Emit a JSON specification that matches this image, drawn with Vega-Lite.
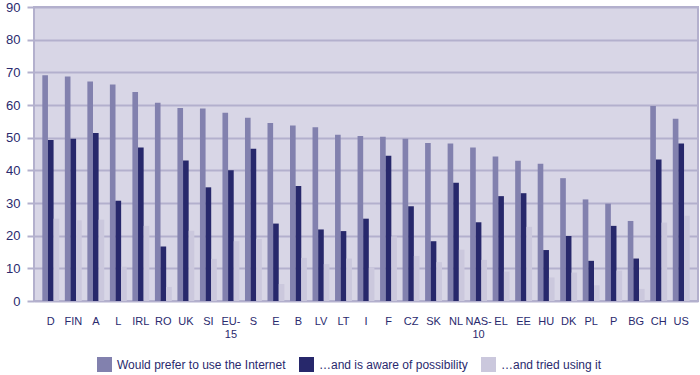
{
  "$schema": "https://vega.github.io/schema/vega-lite/v6.json",
  "width": 664,
  "height": 294,
  "autosize": {"type": "none"},
  "padding": {"left": 34, "top": 7, "right": 2, "bottom": 74},
  "background": "#ffffff",
  "config": {
    "font": "Liberation Sans",
    "view": {"fill": "#d8d6e6", "stroke": "#b3b0cd", "strokeWidth": 2}
  },
  "datasets": {
    "rows": [
      {"country": "D", "series": "Would prefer to use the Internet", "value": 69.1},
      {"country": "D", "series": "…and is aware of possibility", "value": 49.3},
      {"country": "D", "series": "…and tried using it", "value": 25.2},
      {"country": "FIN", "series": "Would prefer to use the Internet", "value": 68.7},
      {"country": "FIN", "series": "…and is aware of possibility", "value": 49.7},
      {"country": "FIN", "series": "…and tried using it", "value": 24.7},
      {"country": "A", "series": "Would prefer to use the Internet", "value": 67.2},
      {"country": "A", "series": "…and is aware of possibility", "value": 51.4},
      {"country": "A", "series": "…and tried using it", "value": 24.9},
      {"country": "L", "series": "Would prefer to use the Internet", "value": 66.3},
      {"country": "L", "series": "…and is aware of possibility", "value": 30.7},
      {"country": "L", "series": "…and tried using it", "value": 10.5},
      {"country": "IRL", "series": "Would prefer to use the Internet", "value": 64.0},
      {"country": "IRL", "series": "…and is aware of possibility", "value": 47.0},
      {"country": "IRL", "series": "…and tried using it", "value": 23.0},
      {"country": "RO", "series": "Would prefer to use the Internet", "value": 60.7},
      {"country": "RO", "series": "…and is aware of possibility", "value": 16.7},
      {"country": "RO", "series": "…and tried using it", "value": 4.3},
      {"country": "UK", "series": "Would prefer to use the Internet", "value": 59.1},
      {"country": "UK", "series": "…and is aware of possibility", "value": 43.0},
      {"country": "UK", "series": "…and tried using it", "value": 21.5},
      {"country": "SI", "series": "Would prefer to use the Internet", "value": 58.9},
      {"country": "SI", "series": "…and is aware of possibility", "value": 34.8},
      {"country": "SI", "series": "…and tried using it", "value": 12.9},
      {"country": "EU-15", "series": "Would prefer to use the Internet", "value": 57.6},
      {"country": "EU-15", "series": "…and is aware of possibility", "value": 40.0},
      {"country": "EU-15", "series": "…and tried using it", "value": 18.3},
      {"country": "S", "series": "Would prefer to use the Internet", "value": 56.1},
      {"country": "S", "series": "…and is aware of possibility", "value": 46.6},
      {"country": "S", "series": "…and tried using it", "value": 19.0},
      {"country": "E", "series": "Would prefer to use the Internet", "value": 54.5},
      {"country": "E", "series": "…and is aware of possibility", "value": 23.7},
      {"country": "E", "series": "…and tried using it", "value": 5.2},
      {"country": "B", "series": "Would prefer to use the Internet", "value": 53.7},
      {"country": "B", "series": "…and is aware of possibility", "value": 35.2},
      {"country": "B", "series": "…and tried using it", "value": 13.2},
      {"country": "LV", "series": "Would prefer to use the Internet", "value": 53.2},
      {"country": "LV", "series": "…and is aware of possibility", "value": 21.9},
      {"country": "LV", "series": "…and tried using it", "value": 11.3},
      {"country": "LT", "series": "Would prefer to use the Internet", "value": 50.9},
      {"country": "LT", "series": "…and is aware of possibility", "value": 21.4},
      {"country": "LT", "series": "…and tried using it", "value": 13.0},
      {"country": "I", "series": "Would prefer to use the Internet", "value": 50.5},
      {"country": "I", "series": "…and is aware of possibility", "value": 25.2},
      {"country": "I", "series": "…and tried using it", "value": 10.2},
      {"country": "F", "series": "Would prefer to use the Internet", "value": 50.3},
      {"country": "F", "series": "…and is aware of possibility", "value": 44.5},
      {"country": "F", "series": "…and tried using it", "value": 19.8},
      {"country": "CZ", "series": "Would prefer to use the Internet", "value": 49.7},
      {"country": "CZ", "series": "…and is aware of possibility", "value": 29.0},
      {"country": "CZ", "series": "…and tried using it", "value": 13.8},
      {"country": "SK", "series": "Would prefer to use the Internet", "value": 48.4},
      {"country": "SK", "series": "…and is aware of possibility", "value": 18.3},
      {"country": "SK", "series": "…and tried using it", "value": 11.9},
      {"country": "NL", "series": "Would prefer to use the Internet", "value": 48.2},
      {"country": "NL", "series": "…and is aware of possibility", "value": 36.2},
      {"country": "NL", "series": "…and tried using it", "value": 15.7},
      {"country": "NAS-10", "series": "Would prefer to use the Internet", "value": 47.0},
      {"country": "NAS-10", "series": "…and is aware of possibility", "value": 24.1},
      {"country": "NAS-10", "series": "…and tried using it", "value": 12.6},
      {"country": "EL", "series": "Would prefer to use the Internet", "value": 44.2},
      {"country": "EL", "series": "…and is aware of possibility", "value": 32.1},
      {"country": "EL", "series": "…and tried using it", "value": 9.0},
      {"country": "EE", "series": "Would prefer to use the Internet", "value": 42.9},
      {"country": "EE", "series": "…and is aware of possibility", "value": 33.0},
      {"country": "EE", "series": "…and tried using it", "value": 22.7},
      {"country": "HU", "series": "Would prefer to use the Internet", "value": 42.0},
      {"country": "HU", "series": "…and is aware of possibility", "value": 15.6},
      {"country": "HU", "series": "…and tried using it", "value": 7.2},
      {"country": "DK", "series": "Would prefer to use the Internet", "value": 37.6},
      {"country": "DK", "series": "…and is aware of possibility", "value": 19.9},
      {"country": "DK", "series": "…and tried using it", "value": 8.7},
      {"country": "PL", "series": "Would prefer to use the Internet", "value": 31.1},
      {"country": "PL", "series": "…and is aware of possibility", "value": 12.3},
      {"country": "PL", "series": "…and tried using it", "value": 4.8},
      {"country": "P", "series": "Would prefer to use the Internet", "value": 29.8},
      {"country": "P", "series": "…and is aware of possibility", "value": 23.0},
      {"country": "P", "series": "…and tried using it", "value": 9.3},
      {"country": "BG", "series": "Would prefer to use the Internet", "value": 24.5},
      {"country": "BG", "series": "…and is aware of possibility", "value": 13.0},
      {"country": "BG", "series": "…and tried using it", "value": 3.7},
      {"country": "CH", "series": "Would prefer to use the Internet", "value": 59.7},
      {"country": "CH", "series": "…and is aware of possibility", "value": 43.3},
      {"country": "CH", "series": "…and tried using it", "value": 24.0},
      {"country": "US", "series": "Would prefer to use the Internet", "value": 55.8},
      {"country": "US", "series": "…and is aware of possibility", "value": 48.2},
      {"country": "US", "series": "…and tried using it", "value": 26.1}
    ]
  },
  "data": {"name": "rows"},
  "mark": {"type": "bar"},
  "encoding": {
    "x": {
      "field": "country",
      "type": "nominal",
      "sort": null,
      "scale": {"paddingInner": 0.25, "paddingOuter": 0.37},
      "axis": {
        "title": null,
        "domain": false,
        "ticks": false,
        "labelAngle": 0,
        "labelPadding": 14,
        "labelFontSize": 11,
        "labelColor": "#2a2a6e",
        "labelLineHeight": 13,
        "labelOverlap": false,
        "labelExpr": "indexof(datum.value, '-') > 0 ? [slice(datum.value, 0, indexof(datum.value, '-') + 1), slice(datum.value, indexof(datum.value, '-') + 1)] : datum.value"
      }
    },
    "xOffset": {
      "field": "series",
      "type": "nominal",
      "scale": {"domain": ["Would prefer to use the Internet", "…and is aware of possibility", "…and tried using it"]}
    },
    "y": {
      "field": "value",
      "type": "quantitative",
      "scale": {"domain": [0, 90], "nice": false},
      "axis": {
        "title": null,
        "values": [0, 10, 20, 30, 40, 50, 60, 70, 80, 90],
        "domain": false,
        "grid": true,
        "gridColor": "#b3b0cd",
        "gridWidth": 2,
        "gridOpacity": 1,
        "tickColor": "#b3b0cd",
        "tickWidth": 2,
        "tickSize": 7,
        "labelPadding": 7,
        "labelFontSize": 13,
        "labelColor": "#2a2a6e"
      }
    },
    "color": {
      "field": "series",
      "type": "nominal",
      "scale": {
        "domain": ["Would prefer to use the Internet", "…and is aware of possibility", "…and tried using it"],
        "range": ["#8281ae", "#27286b", "#cbc8dd"]
      },
      "legend": {
        "title": null,
        "orient": "none",
        "direction": "horizontal",
        "legendX": 63,
        "legendY": 350,
        "symbolType": "square",
        "symbolSize": 225,
        "symbolStrokeWidth": 0,
        "symbolOpacity": 1,
        "labelOffset": 5,
        "columnPadding": 13,
        "labelFontSize": 12,
        "labelColor": "#2a2a6e",
        "padding": 0,
        "labelLimit": 400
      }
    }
  }
}
